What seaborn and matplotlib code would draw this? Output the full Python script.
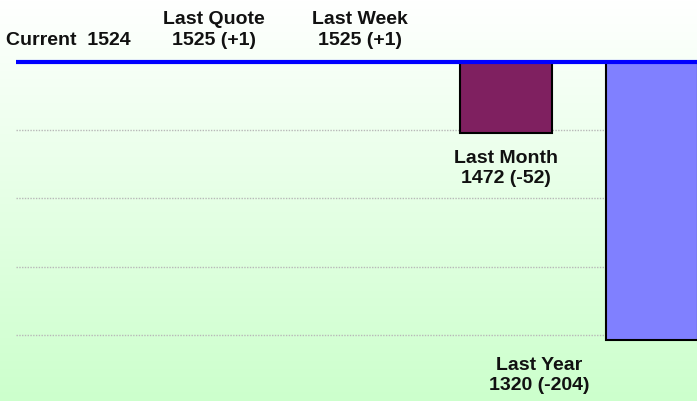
import numpy as np
import pandas as pd
import matplotlib
matplotlib.use("Agg")
import matplotlib.pyplot as plt
from matplotlib.colors import LinearSegmentedColormap
import seaborn as sns

# ---- data ----
categories = ["Current", "Last Quote", "Last Week", "Last Month", "Last Year"]
values = [1524, 1525, 1525, 1472, 1320]
bar_colors = ["#8080ff", "#9999ff", "#993366", "#7f2060", "#8080ff"]

current = values[0]
deltas = [v - current for v in values]
df = pd.DataFrame({"category": categories, "delta": deltas})

plt.rcParams["font.family"] = ["Liberation Sans", "DejaVu Sans"]

W, H = 697, 401
fig = plt.figure(figsize=(W / 100, H / 100), dpi=100)

# gradient background over whole figure
bg = fig.add_axes([0, 0, 1, 1], zorder=-1)
cmap = LinearSegmentedColormap.from_list("bg", ["#ffffff", "#ccffcc"])
grad = np.linspace(0, 1, 256).reshape(-1, 1)
bg.imshow(grad, aspect="auto", cmap=cmap, extent=[0, 1, 0, 1], origin="upper")
bg.set_axis_off()

# main axes: from x=16px to right edge, from y=62px to bottom
left_px, top_px = 16, 62
ax = fig.add_axes([left_px / W, 0, 1 - left_px / W, 1 - top_px / H])
ax.set_facecolor("none")

sns.barplot(data=df, x="category", y="delta", hue="category", palette=bar_colors,
            saturation=1, width=0.63, edgecolor="black", linewidth=1.5,
            legend=False, ax=ax, zorder=3)

px_per_cat = 146.0
cat0_px = 68.0
ax.set_xlim(-(cat0_px - left_px) / px_per_cat, (W - cat0_px) / px_per_cat)
px_per_unit = 1.3635
ax.set_ylim(-(H - top_px) / px_per_unit, 0)

ax.set_yticks([-200, -150, -100, -50])
ax.yaxis.grid(True, color="#b8b8b8", linestyle=(0, (1, 1)), linewidth=1.0)
ax.set_axisbelow(True)
ax.tick_params(left=False, bottom=False, labelleft=False, labelbottom=False)
ax.set_xlabel("")
ax.set_ylabel("")
for s in ax.spines.values():
    s.set_visible(False)

# blue baseline (current value)
ax.axhline(0, color="#0000ff", linewidth=3.0, zorder=5, clip_on=False,
           solid_capstyle="butt")

# labels
off_up = 9.6
off_down = 12.0
for i, (cat, v, d) in enumerate(zip(categories, values, deltas)):
    if i == 0:
        txt = f"{cat}  {v}"
    else:
        txt = f"{cat}\n{v} ({d:+d})"
    dx = -81 if i == len(categories) - 1 else 0
    if d >= 0:
        ax.annotate(txt, xy=(i, 0), xytext=(dx, off_up), textcoords="offset points",
                    ha="center", va="bottom", fontsize=14, fontweight="bold",
                    linespacing=1.25, annotation_clip=False, color="#111111")
    else:
        ax.annotate(txt, xy=(i, d), xytext=(dx, -off_down), textcoords="offset points",
                    ha="center", va="top", fontsize=14, fontweight="bold",
                    linespacing=1.25, annotation_clip=False, color="#111111")

fig.savefig("out.png", dpi=100)
